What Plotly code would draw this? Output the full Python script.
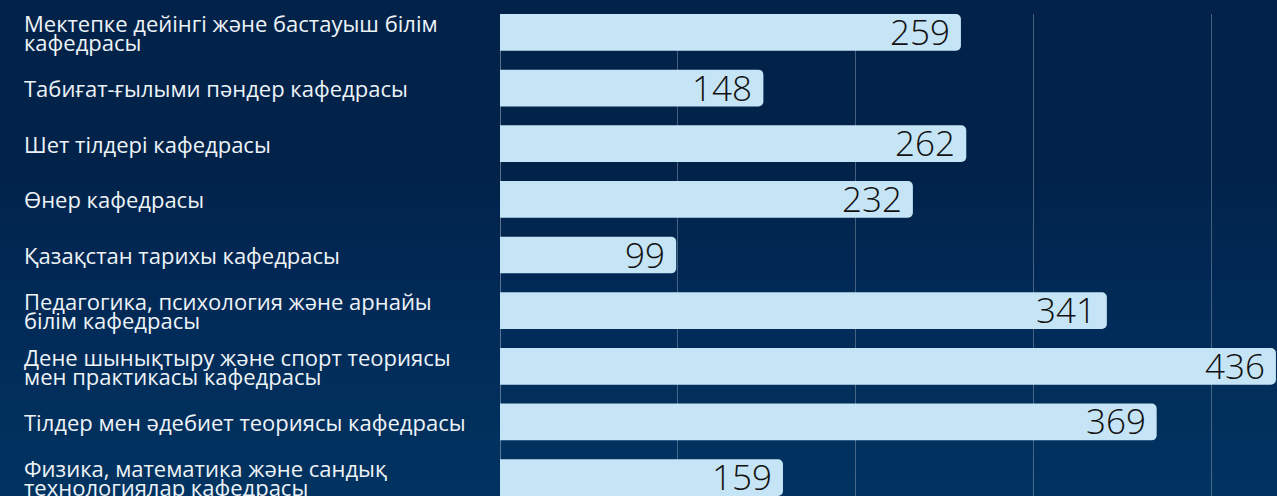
import plotly.graph_objects as go

categories = [
    "Мектепке дейінгі және бастауыш білім<br>кафедрасы",
    "Табиғат-ғылыми пәндер кафедрасы",
    "Шет тілдері кафедрасы",
    "Өнер кафедрасы",
    "Қазақстан тарихы кафедрасы",
    "Педагогика, психология және арнайы<br>білім кафедрасы",
    "Дене шынықтыру және спорт теориясы<br>мен практикасы кафедрасы",
    "Тілдер мен әдебиет теориясы кафедрасы",
    "Физика, математика және сандық<br>технологиялар кафедрасы",
]
values = [259, 148, 262, 232, 99, 341, 436, 369, 159]

BG = "#01234a"
BAR = "#c5e4f6"
LABEL_FONT = "Open Sans"
W, H, L, T = 1277, 496, 500, 14
PW = W - L
PH = H - T

idx = list(range(len(categories)))

fig = go.Figure()
fig.add_trace(go.Bar(
    x=values, y=idx, orientation="h",
    marker=dict(color=BAR, line=dict(width=0), cornerradius=5),
    hoverinfo="skip",
))

# soft decorative background gradient (lighter towards the bottom)
shapes = []
bands = 16
for k in range(bands):
    shapes.append(dict(
        type="rect", xref="paper", yref="paper", layer="below",
        x0=-L / PW, x1=1,
        y0=-0.05, y1=0.65 * (1 - k / bands),
        line=dict(width=0), fillcolor="rgba(20,85,150,0.035)",
    ))

annotations = []
for i, (cat, v) in enumerate(zip(categories, values)):
    lines = cat.split("<br>")
    n = len(lines)
    for j, line in enumerate(lines):
        shift = (-(j - (n - 1) / 2)) * 18.5
        annotations.append(dict(
            x=-L / PW, xref="paper", y=i, yref="y",
            xanchor="left", yanchor="middle", showarrow=False,
            xshift=22, yshift=shift,
            text=line, font=dict(family=LABEL_FONT, size=22, color="#eef3f8"),
        ))
    annotations.append(dict(
        x=v, xref="x", y=i, yref="y",
        xanchor="right", yanchor="middle", showarrow=False,
        xshift=-9, yshift=1,
        text=str(v), font=dict(family=LABEL_FONT, size=35, color="#111111", weight=300),
    ))

fig.update_layout(
    width=W, height=H,
    margin=dict(l=L, r=0, t=T, b=0),
    paper_bgcolor=BG, plot_bgcolor="rgba(0,0,0,0)",
    showlegend=False,
    bargap=0.34,
    shapes=shapes,
    annotations=annotations,
    xaxis=dict(range=[0, 436.6], showgrid=True, gridcolor="rgba(255,255,255,0.27)",
               gridwidth=1, dtick=100, showticklabels=False, zeroline=True,
               zerolinecolor="rgba(255,255,255,0.35)", zerolinewidth=1, fixedrange=True),
    yaxis=dict(range=[8.33, -0.33], showgrid=False, showticklabels=False,
               zeroline=False, fixedrange=True),
)

fig.write_html("out.html", config={"displayModeBar": False})
